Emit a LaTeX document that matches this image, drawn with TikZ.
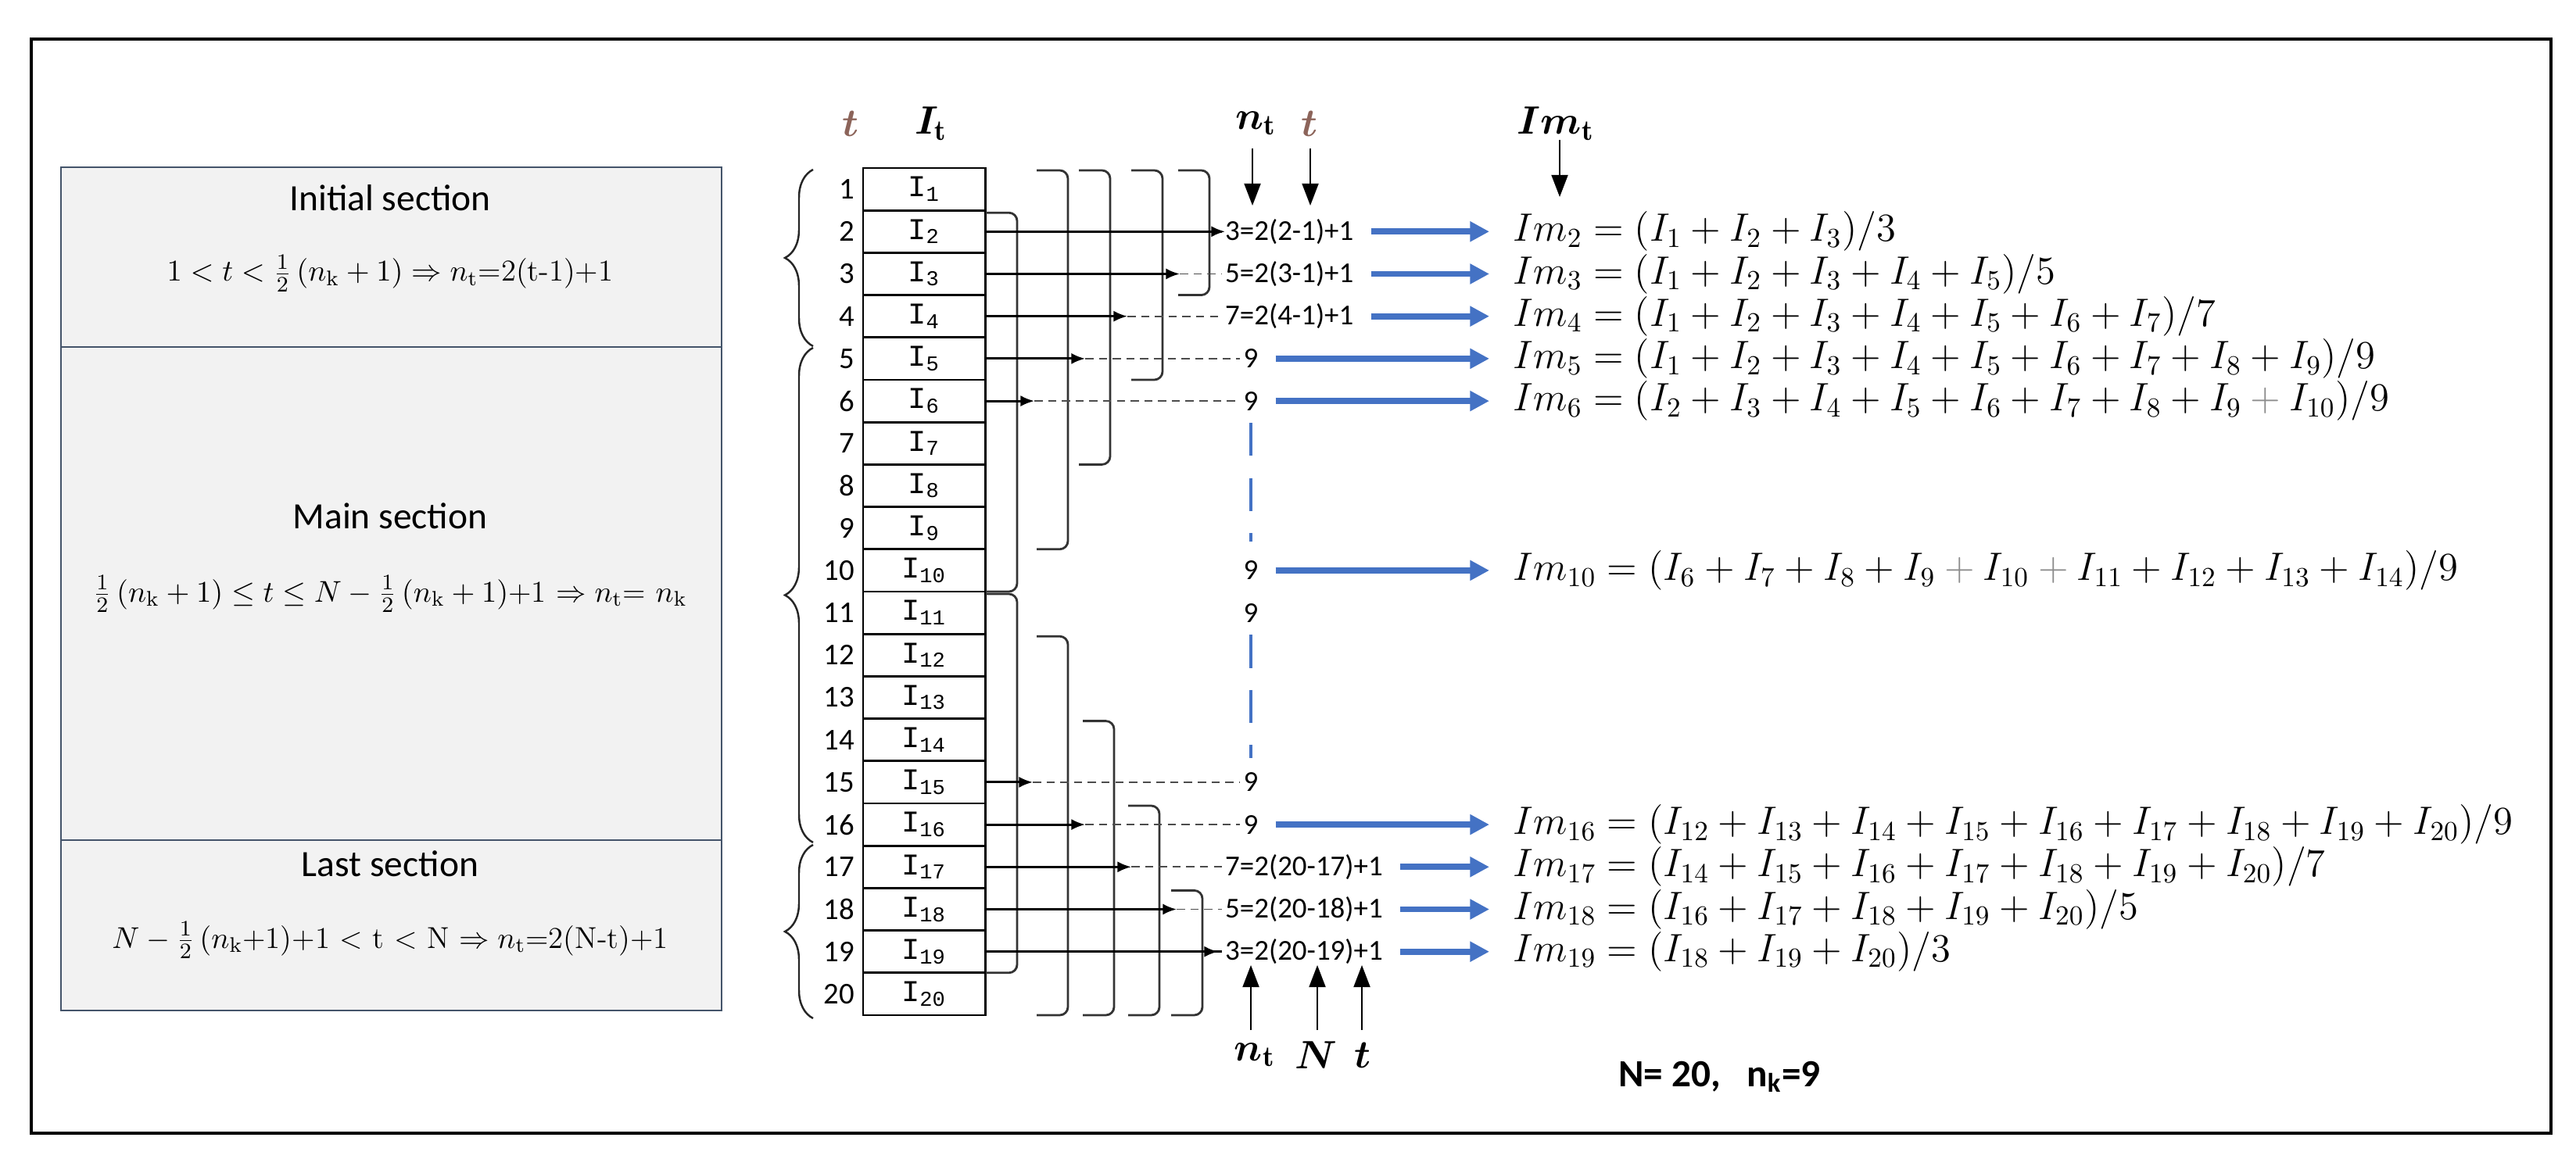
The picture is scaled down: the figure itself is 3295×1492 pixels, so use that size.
\documentclass[tikz,border=0pt]{standalone}
\usepackage{amsmath,bm}
\usepackage{fontspec}
\newfontfamily\calf{Carlito}
\newfontfamily\monof{Liberation Mono}
\usetikzlibrary{arrows.meta,decorations.pathreplacing}
\definecolor{bl}{RGB}{68,114,196}
\definecolor{br}{RGB}{140,100,90}
\definecolor{bx}{RGB}{68,84,106}
\begin{document}
\begin{tikzpicture}[x=0.01cm,y=-0.01cm,
  cell/.style={draw,line width=2.5pt/3,minimum width=1.56cm,minimum height=0.542cm,inner sep=0,font=\monof\fontsize{11}{12}\selectfont},
  num/.style={anchor=east,font=\calf\fontsize{11}{12}\selectfont,inner sep=1pt},
  lab/.style={anchor=west,font=\calf\fontsize{10.5}{12}\selectfont,inner sep=1pt},
  nine/.style={font=\calf\fontsize{10.5}{12}\selectfont,inner sep=1pt},
  brk/.style={draw=black!80,line width=0.8pt,rounded corners=3pt},
  sec/.style={draw=bx,fill=black!5,line width=0.6pt},
  barrow/.style={draw=bl,line width=2.2pt,-{Triangle[length=7pt,width=7pt]}},
  dsh/.style={densely dashed,line width=0.5pt,black!70},
  form/.style={anchor=west,font=\fontsize{14.5}{16}\selectfont,inner sep=0pt},
  hd/.style={font=\fontsize{15}{17}\selectfont},
  ar/.style={-{Triangle[length=8pt,width=6pt]},line width=0.5pt}]
\useasboundingbox (0,0) rectangle (3295,1492);
\draw[line width=1pt] (40,50) rectangle (3263,1450);
% left sections
\node[sec,minimum width=8.44cm,minimum height=2.30cm,anchor=north west] (s1) at (77,213) {};
\node[sec,minimum width=8.44cm,minimum height=6.31cm,anchor=north west] (s2) at (77,443) {};
\node[sec,minimum width=8.44cm,minimum height=2.18cm,anchor=north west] (s3) at (77,1074) {};
\node[font=\calf\fontsize{13.5}{15}\selectfont] (t1) at (499,253) {Initial section};
\node[font=\fontsize{11}{12}\selectfont] (f1) at (499,350) {$1<t<\frac{1}{2}\,(n_{\mathrm{k}}+1)\Rightarrow n_{\mathrm{t}}$=2(t-1)+1};
\node[font=\calf\fontsize{13.5}{15}\selectfont] (t2) at (499,660) {Main section};
\node[font=\fontsize{11}{12}\selectfont] (f2) at (499,760) {$\frac{1}{2}\,(n_{\mathrm{k}}+1)\le t\le N-\frac{1}{2}\,(n_{\mathrm{k}}+1)$+1 $\Rightarrow n_{\mathrm{t}}$= $n_{\mathrm{k}}$};
\node[font=\calf\fontsize{13.5}{15}\selectfont] (t3) at (499,1105) {Last section};
\node[font=\fontsize{11}{12}\selectfont] (f3) at (499,1203) {$N-\frac{1}{2}\,(n_{\mathrm{k}}$+1)+1 < t < N $\Rightarrow n_{\mathrm{t}}$=2(N-t)+1};
% table
\foreach \i in {1,...,20}{
  \pgfmathsetmacro\yy{215+54.2*(\i-0.5)}
  \node[cell] (c\i) at (1182,\yy) {I\textsubscript{\i}};
  \node[num] (n\i) at (1097,\yy) {\i};
}
% left braces
\coordinate (ba1) at (1040,443); \coordinate (bb1) at (1040,217);
\coordinate (ba2) at (1040,1078); \coordinate (bb2) at (1040,445);
\coordinate (ba3) at (1040,1303); \coordinate (bb3) at (1040,1081);
\foreach \k in {1,2,3}
  \draw[decorate,decoration={brace,amplitude=0.36cm},line width=0.7pt,black!85] (ba\k) -- (bb\k);
% right brackets
\foreach \x/\a/\b in {1366/1/9,1420/1/7,1487/1/5,1547/1/3,1301/2/10,1301/11/19,1366/12/20,1425/14/20,1483/16/20,1538/18/20}{
  \pgfmathsetmacro\ya{215+54.2*(\a-1)+3}
  \pgfmathsetmacro\yb{215+54.2*\b}
  \draw[brk] (\x-40,\ya) -- (\x,\ya) -- (\x,\yb) -- (\x-40,\yb);
}
% labels
\foreach \r/\t in {2/{3=2(2-1)+1},3/{5=2(3-1)+1},4/{7=2(4-1)+1},17/{7=2(20-17)+1},18/{5=2(20-18)+1},19/{3=2(20-19)+1}}{
  \pgfmathsetmacro\yy{215+54.2*(\r-0.5)}
  \node[lab] (L\r) at (1563,\yy) {\t};
}
\foreach \r in {5,6,10,11,15,16}{
  \pgfmathsetmacro\yy{215+54.2*(\r-0.5)}
  \node[nine] (L\r) at (1600,\yy) {9};
}
% row connectors
\foreach \r/\x in {2/1547,19/1538}{
  \pgfmathsetmacro\yy{215+54.2*(\r-0.5)}
  \draw[line width=0.8pt] (c\r.east) -- (L\r.west);
  \draw[-{Latex[length=5pt,width=4pt]},line width=0.8pt] (c\r.east) -- (\x+20,\yy);
}
\foreach \r/\x in {3/1487,4/1420,5/1366,6/1301,15/1299,16/1366,17/1425,18/1483}{
  \pgfmathsetmacro\yy{215+54.2*(\r-0.5)}
  \coordinate (k\r) at (\x+22,\yy);
  \draw[-{Latex[length=5pt,width=4pt]},line width=0.8pt] (c\r.east) -- (k\r);
  \draw[dsh] (k\r) -- (L\r.west);
}
% blue dashed verticals
\draw[bl,line width=1.2pt,dash pattern=on 12pt off 8pt] (L6.south) ++(0,12) coordinate (v1) -- (1600,693);
\draw[bl,line width=1.2pt,dash pattern=on 12pt off 8pt] (L11.south) ++(0,12) coordinate (v2) -- (1600,970);
% formulas
\def\ys#1{215+54.2*(#1-0.5)}
\newcommand\pg{\mathbin{\textcolor{black!45}{+}}}
\node[form] (F2) at (1935,{\ys{2}}) {$Im_2=(I_1+I_2+I_3)/3$};
\node[form] (F3) at (1935,{\ys{3}}) {$Im_3=(I_1+I_2+I_3+I_4+I_5)/5$};
\node[form] (F4) at (1935,{\ys{4}}) {$Im_4=(I_1+I_2+I_3+I_4+I_5+I_6+I_7)/7$};
\node[form] (F5) at (1935,{\ys{5}}) {$Im_5=(I_1+I_2+I_3+I_4+I_5+I_6+I_7+I_8+I_9)/9$};
\node[form] (F6) at (1935,{\ys{6}}) {$Im_6=(I_2+I_3+I_4+I_5+I_6+I_7+I_8+I_9\pg I_{10})/9$};
\node[form] (F10) at (1935,{\ys{10}}) {$Im_{10}=(I_6+I_7+I_8+I_9\pg I_{10}\pg I_{11}+I_{12}+I_{13}+I_{14})/9$};
\node[form] (F16) at (1935,{\ys{16}}) {$Im_{16}=(I_{12}+I_{13}+I_{14}+I_{15}+I_{16}+I_{17}+I_{18}+I_{19}+I_{20})/9$};
\node[form] (F17) at (1935,{\ys{17}}) {$Im_{17}=(I_{14}+I_{15}+I_{16}+I_{17}+I_{18}+I_{19}+I_{20})/7$};
\node[form] (F18) at (1935,{\ys{18}}) {$Im_{18}=(I_{16}+I_{17}+I_{18}+I_{19}+I_{20})/5$};
\node[form] (F19) at (1935,{\ys{19}}) {$Im_{19}=(I_{18}+I_{19}+I_{20})/3$};
\foreach \r in {2,3,4,5,6,10,16,17,18,19}
  \draw[barrow] ([xshift=18*0.01cm]L\r.east) -- ([xshift=-30*0.01cm]F\r.west);
% headings
\node[hd,text=br] (ht1) at (1088,158) {$\bm{t}$};
\node[hd] (hI) at (1191,158) {$\bm{I}_{\mathbf t}$};
\node[hd] (hn) at (1607,158) {$\bm{n}_{\mathbf t}$};
\node[hd,text=br] (ht2) at (1675,158) {$\bm{t}$};
\node[hd] (hIm) at (1990,158) {$\bm{Im}_{\mathbf t}$};
\coordinate (a1) at (1602,190); \coordinate (a1e) at (1602,263);
\coordinate (a2) at (1676,190); \coordinate (a2e) at (1676,263);
\coordinate (a3) at (1995,179); \coordinate (a3e) at (1995,252);
\draw[ar] (a1) -- (a1e); \draw[ar] (a2) -- (a2e); \draw[ar] (a3) -- (a3e);
\node[hd] (bn) at (1605,1350) {$\bm{n}_{\mathbf t}$};
\node[hd] (bN) at (1683,1350) {$\bm{N}$};
\node[hd] (bt) at (1743,1350) {$\bm{t}$};
\coordinate (b1) at (1600,1318); \coordinate (b1e) at (1600,1235);
\coordinate (b2) at (1685,1318); \coordinate (b2e) at (1685,1235);
\coordinate (b3) at (1742,1318); \coordinate (b3e) at (1742,1235);
\draw[ar] (b1) -- (b1e); \draw[ar] (b2) -- (b2e); \draw[ar] (b3) -- (b3e);
\node[font=\calf\bfseries\fontsize{14}{16}\selectfont,anchor=west] (NN) at (2058,1378) {N= 20,\ \ \ n\textsubscript{k}=9};
\end{tikzpicture}
\end{document}
